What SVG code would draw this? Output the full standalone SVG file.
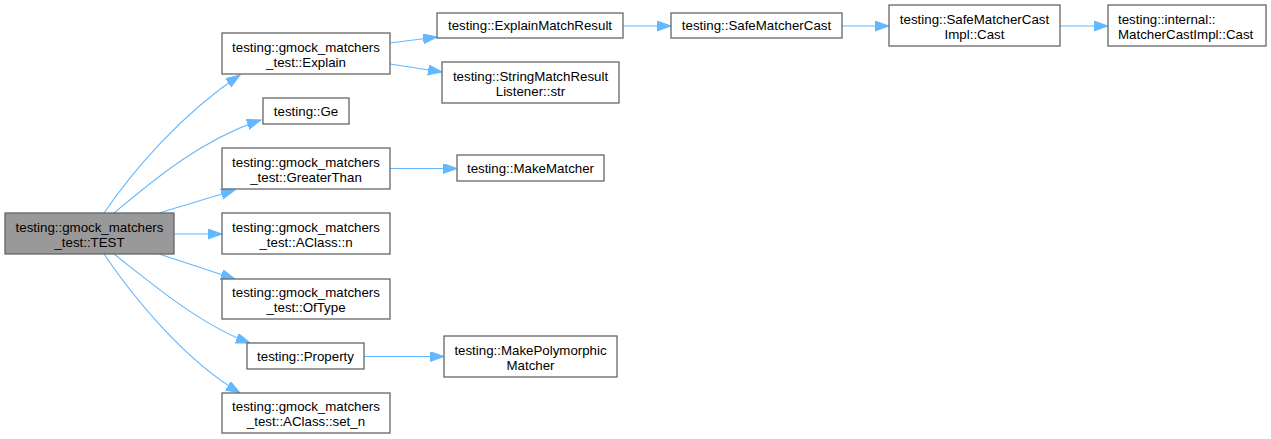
<svg xmlns="http://www.w3.org/2000/svg" width="1271" height="439" viewBox="0 0 1271 439">
<style>
.n rect{fill:#ffffff;stroke:#666666;stroke-width:1.3}
.n.hl rect{fill:#999999}
.n text{font-family:"Liberation Sans",Arial,Helvetica,sans-serif;font-size:13.3px;fill:#000000;text-anchor:middle}
.n text.l{text-anchor:start}
#edges path{fill:none;stroke:#63b8ff;stroke-width:1.1;marker-end:url(#ah)}
</style>
<defs>
<marker id="ah" markerUnits="userSpaceOnUse" markerWidth="15" markerHeight="11" refX="14" refY="5" orient="auto" viewBox="0 0 15 11">
<path d="M0,0 L14,5 L0,10 z" fill="#63b8ff" stroke="#63b8ff" stroke-width="1"/>
</marker>
</defs>
<rect width="1271" height="439" fill="#ffffff"/>
<g id="edges">
<path d="M104,213 C132,172 180,115 240,75"/>
<path d="M114,213 C150,183 200,140 261,120"/>
<path d="M159,213 L235,190"/>
<path d="M174,234 L222,234"/>
<path d="M159,254 L235,279"/>
<path d="M114,254 C150,282 200,325 250,343"/>
<path d="M104,254 C135,300 185,360 240,393"/>
<path d="M390,43 L437,37"/>
<path d="M390,64 L442,72"/>
<path d="M623,26 L671,26"/>
<path d="M842,26 L889,26"/>
<path d="M1060,26 L1108,26"/>
<path d="M390,168.5 L457,168.5"/>
<path d="M364,356.5 L444,356.5"/>
</g>
<g id="n_test" class="n hl"><rect x="5" y="213" width="169" height="41"/><text x="89.5" y="231.5">testing::gmock_matchers</text><text x="89.5" y="246.5">_test::TEST</text></g>
<g id="n_explain" class="n"><rect x="222" y="33" width="168" height="41"/><text x="306" y="51.5">testing::gmock_matchers</text><text x="306" y="66.5">_test::Explain</text></g>
<g id="n_ge" class="n"><rect x="263" y="98" width="86" height="26"/><text x="306" y="115.5">testing::Ge</text></g>
<g id="n_greaterthan" class="n"><rect x="222" y="148" width="168" height="41"/><text x="306" y="166.5">testing::gmock_matchers</text><text x="306" y="181.5">_test::GreaterThan</text></g>
<g id="n_aclass_n" class="n"><rect x="222" y="213" width="168" height="41"/><text x="306" y="231.5">testing::gmock_matchers</text><text x="306" y="246.5">_test::AClass::n</text></g>
<g id="n_oftype" class="n"><rect x="222" y="279" width="168" height="40"/><text x="306" y="297">testing::gmock_matchers</text><text x="306" y="312">_test::OfType</text></g>
<g id="n_property" class="n"><rect x="247" y="343" width="117" height="26"/><text x="305.5" y="360.5">testing::Property</text></g>
<g id="n_set_n" class="n"><rect x="222" y="393" width="168" height="40"/><text x="306" y="411">testing::gmock_matchers</text><text x="306" y="426">_test::AClass::set_n</text></g>
<g id="n_explainmatchresult" class="n"><rect x="437" y="13" width="186" height="25"/><text x="530" y="30">testing::ExplainMatchResult</text></g>
<g id="n_smrl_str" class="n"><rect x="442" y="62" width="177" height="41"/><text x="530.5" y="80.5">testing::StringMatchResult</text><text x="530.5" y="95.5">Listener::str</text></g>
<g id="n_safematchercast" class="n"><rect x="671" y="13" width="171" height="25"/><text x="756.5" y="30">testing::SafeMatcherCast</text></g>
<g id="n_smci_cast" class="n"><rect x="889" y="5" width="171" height="41"/><text x="974.5" y="23.5">testing::SafeMatcherCast</text><text x="974.5" y="38.5">Impl::Cast</text></g>
<g id="n_mci_cast" class="n"><rect x="1108" y="5" width="158" height="41"/><text class="l" x="1118" y="23.5">testing::internal::</text><text class="l" x="1118" y="38.5">MatcherCastImpl::Cast</text></g>
<g id="n_makematcher" class="n"><rect x="457" y="155" width="147" height="26"/><text x="530.5" y="172.5">testing::MakeMatcher</text></g>
<g id="n_makepolymorphic" class="n"><rect x="444" y="336" width="173" height="41"/><text x="530.5" y="354.5">testing::MakePolymorphic</text><text x="530.5" y="369.5">Matcher</text></g>
</svg>
